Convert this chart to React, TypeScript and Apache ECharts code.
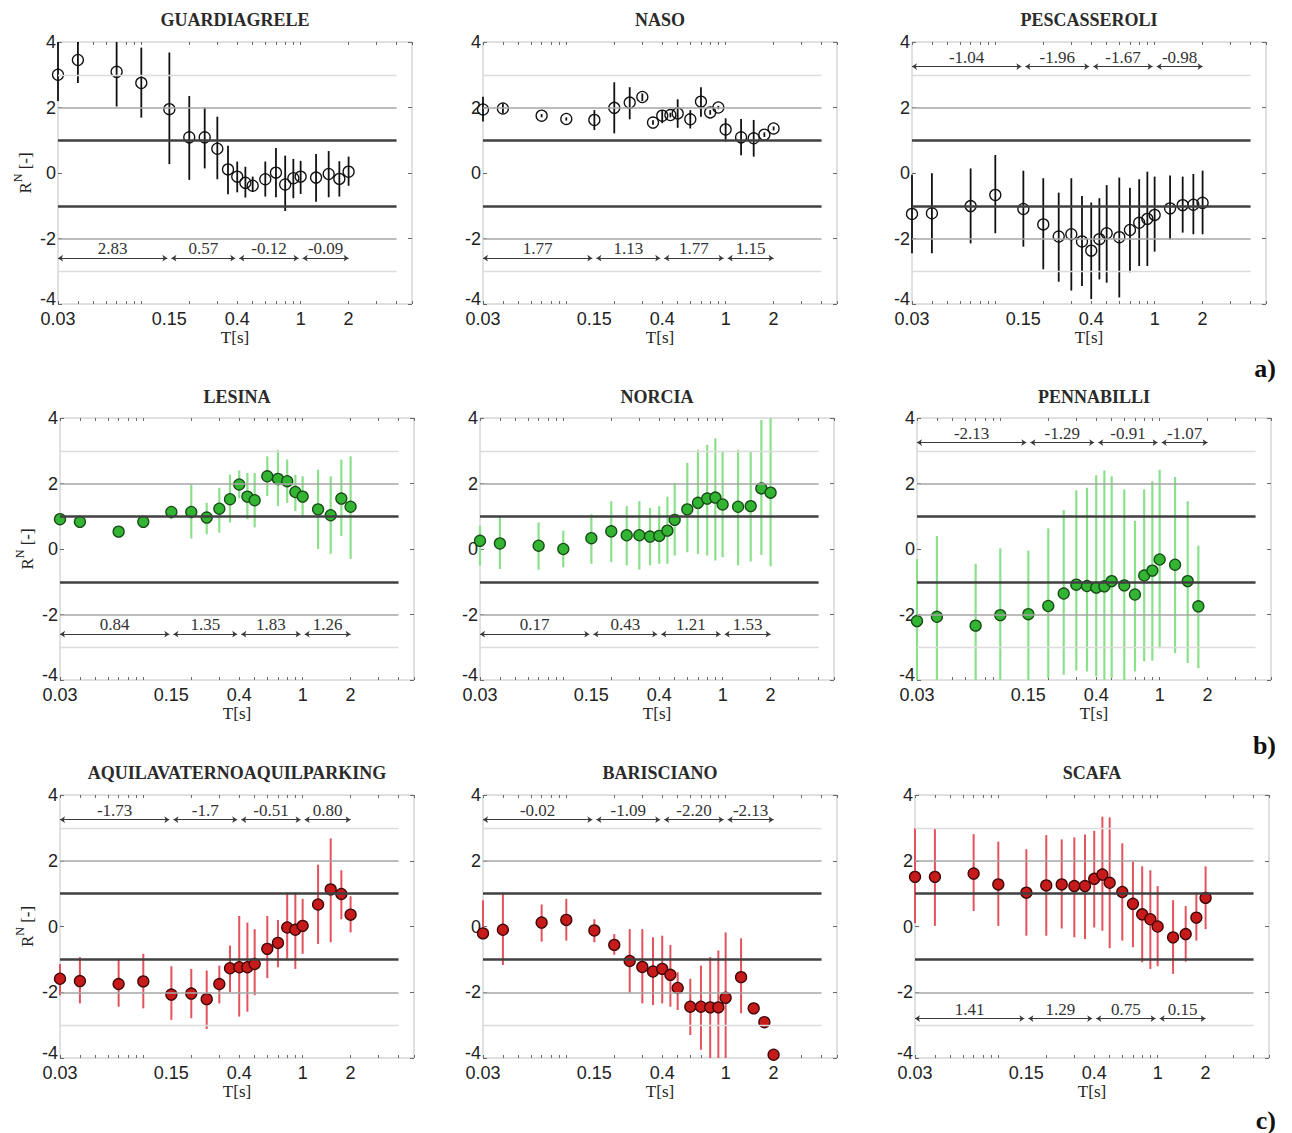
import React, { useEffect, useRef } from "react";
import * as echarts from "echarts";

// ---------------- data ----------------
const PERIODS = [0.03, 0.04, 0.07, 0.1, 0.15, 0.2, 0.25, 0.3, 0.35, 0.4, 0.45, 0.5, 0.6, 0.7, 0.8, 0.9, 1.0, 1.25, 1.5, 1.75, 2.0];
const PERIODS_PENNABILLI = [0.03, 0.04, 0.07, 0.1, 0.15, 0.2, 0.25, 0.3, 0.35, 0.4, 0.45, 0.5, 0.6, 0.7, 0.8, 0.9, 1.0, 1.25, 1.5, 1.75];

const X_LABEL_VALUES = [0.03, 0.15, 0.4, 1, 2];
const X_TICK_VALUES = [0.03, 0.04, 0.05, 0.06, 0.07, 0.08, 0.09, 0.1, 0.2, 0.3, 0.4, 0.5, 0.6, 0.7, 0.8, 0.9, 1, 2, 3, 4, 5];
const RANGE_BOUNDS = [0.03, 0.15, 0.4, 1, 2];
const GRID_LEVELS = [3, 2, 1, -1, -2, -3];
const GRID_LINE_END = 4;

const GUARD_VAL = [3.0, 3.45, 3.09, 2.75, 1.95, 1.09, 1.09, 0.74, 0.11, -0.11, -0.3, -0.39, -0.19, 0.01, -0.35, -0.16, -0.11, -0.14, -0.03, -0.18, 0.04];
const GUARD_LO = [2.2, 2.75, 2.03, 1.69, 0.27, -0.21, 0.14, -0.19, -0.65, -0.59, -0.75, -0.57, -0.72, -0.74, -1.16, -0.77, -0.64, -0.88, -0.74, -0.72, -0.39];
const GUARD_HI = [4.3, 4.2, 4.2, 3.83, 3.68, 2.35, 2.0, 1.72, 0.83, 0.35, 0.19, -0.11, 0.35, 0.76, 0.53, 0.43, 0.37, 0.58, 0.67, 0.36, 0.5];
const GUARD_RANGES = ["2.83", "0.57", "-0.12", "-0.09"];

const NASO_VAL = [1.94, 1.97, 1.75, 1.65, 1.62, 1.99, 2.15, 2.32, 1.54, 1.75, 1.77, 1.82, 1.64, 2.18, 1.85, 2.0, 1.33, 1.09, 1.06, 1.17, 1.36];
const NASO_LO = [1.57, 1.82, 1.7, 1.6, 1.31, 1.21, 1.64, 2.2, 1.47, 1.52, 1.7, 1.38, 1.36, 1.72, 1.78, 1.95, 0.96, 0.54, 0.5, 1.1, 1.3];
const NASO_HI = [2.33, 2.13, 1.8, 1.7, 1.92, 2.77, 2.62, 2.43, 1.61, 1.92, 1.84, 2.25, 1.92, 2.62, 1.92, 2.05, 1.67, 1.65, 1.62, 1.24, 1.42];
const NASO_RANGES = ["1.77", "1.13", "1.77", "1.15"];

const PESC_VAL = [-1.25, -1.23, -1.01, -0.67, -1.1, -1.57, -1.94, -1.87, -2.09, -2.37, -2.02, -1.84, -1.96, -1.74, -1.52, -1.4, -1.28, -1.08, -0.98, -0.97, -0.91];
const PESC_LO = [-2.45, -2.45, -2.15, -1.84, -2.25, -2.94, -3.32, -3.59, -3.45, -3.85, -3.25, -3.35, -3.8, -3.03, -2.84, -2.84, -2.4, -2.03, -1.82, -1.87, -1.87];
const PESC_HI = [-0.05, -0.01, 0.14, 0.55, 0.07, -0.16, -0.6, -0.16, -0.7, -0.9, -0.77, -0.37, -0.14, -0.45, -0.19, 0.04, -0.11, -0.08, -0.11, -0.03, 0.07];
const PESC_RANGES = ["-1.04", "-1.96", "-1.67", "-0.98"];

const LES_VAL = [0.91, 0.83, 0.53, 0.83, 1.13, 1.13, 0.96, 1.23, 1.52, 1.97, 1.6, 1.49, 2.22, 2.14, 2.07, 1.74, 1.6, 1.21, 1.03, 1.54, 1.29];
const LES_LO = [0.8, 0.72, 0.45, 0.75, 0.91, 0.32, 0.45, 0.5, 0.81, 1.55, 0.91, 0.66, 1.62, 1.31, 1.41, 1.16, 0.96, 0.0, -0.15, 0.4, -0.3];
const LES_HI = [1.0, 0.93, 0.62, 0.92, 1.31, 1.97, 1.41, 1.87, 2.27, 2.4, 2.32, 2.32, 2.83, 3.03, 2.73, 2.27, 2.22, 2.42, 2.22, 2.73, 2.83];
const LES_RANGES = ["0.84", "1.35", "1.83", "1.26"];

const NOR_VAL = [0.25, 0.17, 0.1, 0.0, 0.33, 0.54, 0.42, 0.42, 0.38, 0.4, 0.56, 0.89, 1.21, 1.41, 1.54, 1.57, 1.36, 1.29, 1.31, 1.85, 1.72];
const NOR_LO = [-0.5, -0.61, -0.63, -0.56, -0.45, -0.4, -0.5, -0.63, -0.5, -0.45, -0.45, -0.2, -0.1, -0.15, -0.2, -0.35, -0.25, -0.5, -0.38, -0.18, -0.53];
const NOR_HI = [0.71, 1.01, 0.81, 0.56, 1.06, 1.46, 1.31, 1.46, 1.26, 1.31, 1.6, 2.02, 2.63, 3.03, 3.18, 3.38, 2.98, 3.03, 2.98, 3.94, 4.2];
const NOR_RANGES = ["0.17", "0.43", "1.21", "1.53"];

const PEN_VAL = [-2.2, -2.07, -2.34, -2.02, -1.99, -1.74, -1.36, -1.09, -1.13, -1.18, -1.14, -0.98, -1.11, -1.39, -0.81, -0.66, -0.32, -0.48, -0.98, -1.75];
const PEN_LO = [-4.2, -4.3, -4.2, -4.1, -4.0, -3.94, -3.84, -3.71, -3.74, -3.89, -4.0, -3.94, -4.0, -3.74, -3.43, -3.41, -3.03, -3.18, -3.48, -3.64];
const PEN_HI = [-0.3, 0.4, -0.45, 0.02, -0.05, 0.63, 1.19, 1.79, 1.87, 2.25, 2.4, 2.22, 1.82, 0.86, 1.82, 2.07, 2.42, 2.2, 1.46, 0.1];
const PEN_RANGES = ["-2.13", "-1.29", "-0.91", "-1.07"];

const AQU_VAL = [-1.59, -1.66, -1.75, -1.67, -2.07, -2.04, -2.21, -1.75, -1.27, -1.24, -1.24, -1.14, -0.68, -0.5, -0.03, -0.1, 0.02, 0.67, 1.13, 0.99, 0.36];
const AQU_LO = [-2.09, -2.34, -2.44, -2.49, -2.84, -2.79, -3.12, -2.34, -1.99, -2.74, -2.59, -2.09, -1.57, -1.24, -0.98, -1.29, -0.83, -0.53, -0.48, 0.22, -0.18];
const AQU_HI = [-1.14, -0.93, -0.98, -0.83, -1.21, -1.29, -1.34, -1.19, -0.58, 0.32, 0.12, -0.08, 0.32, 0.2, 1.03, 1.03, 0.84, 1.88, 2.68, 1.71, 0.92];
const AQU_RANGES = ["-1.73", "-1.7", "-0.51", "0.80"];

const BAR_VAL = [-0.21, -0.1, 0.12, 0.2, -0.12, -0.56, -1.05, -1.23, -1.37, -1.29, -1.47, -1.87, -2.44, -2.44, -2.46, -2.46, -2.17, -1.54, -2.49, -2.91, -3.9];
const BAR_LO = [-0.3, -1.17, -0.46, -0.43, -0.48, -0.86, -2.01, -2.34, -2.39, -2.34, -2.44, -2.54, -3.3, -3.75, -4.3, -4.3, -4.3, -2.64, -2.55, -2.96, -3.95];
const BAR_HI = [0.8, 1.03, 0.67, 0.84, 0.22, -0.23, -0.08, -0.08, -0.33, -0.28, -0.56, -1.39, -1.59, -1.19, -0.93, -0.73, -0.18, -0.36, -2.43, -2.86, -3.85];
const BAR_RANGES = ["-0.02", "-1.09", "-2.20", "-2.13"];

const SCA_VAL = [1.51, 1.51, 1.61, 1.28, 1.03, 1.25, 1.28, 1.23, 1.23, 1.45, 1.58, 1.33, 1.05, 0.69, 0.37, 0.22, 0.0, -0.33, -0.23, 0.27, 0.87];
const SCA_LO = [0.1, 0.02, 0.47, 0.02, -0.28, -0.28, -0.06, -0.33, -0.38, -0.03, -0.13, -0.66, -0.43, -0.63, -1.09, -1.29, -1.21, -1.44, -1.07, -0.43, -0.08];
const SCA_HI = [3.0, 2.99, 2.81, 2.58, 2.35, 2.78, 2.65, 2.71, 2.8, 2.91, 3.34, 3.32, 2.53, 1.98, 1.83, 1.71, 1.23, 0.8, 0.62, 1.03, 1.83];
const SCA_RANGES = ["1.41", "1.29", "0.75", "0.15"];

const RANGE_Y_TOP = 3.25;
const RANGE_Y_BOTTOM = -2.6;
const RANGE_Y_SCAFA = -2.8;

type Panel = {
  title: string;
  periods: number[];
  val: number[];
  lo: number[];
  hi: number[];
  ranges: string[];
  rangeY: number;
  kind: "open" | "green" | "red";
};

const PANELS: Panel[] = [
  { title: "GUARDIAGRELE", periods: PERIODS, val: GUARD_VAL, lo: GUARD_LO, hi: GUARD_HI, ranges: GUARD_RANGES, rangeY: RANGE_Y_BOTTOM, kind: "open" },
  { title: "NASO", periods: PERIODS, val: NASO_VAL, lo: NASO_LO, hi: NASO_HI, ranges: NASO_RANGES, rangeY: RANGE_Y_BOTTOM, kind: "open" },
  { title: "PESCASSEROLI", periods: PERIODS, val: PESC_VAL, lo: PESC_LO, hi: PESC_HI, ranges: PESC_RANGES, rangeY: RANGE_Y_TOP, kind: "open" },
  { title: "LESINA", periods: PERIODS, val: LES_VAL, lo: LES_LO, hi: LES_HI, ranges: LES_RANGES, rangeY: RANGE_Y_BOTTOM, kind: "green" },
  { title: "NORCIA", periods: PERIODS, val: NOR_VAL, lo: NOR_LO, hi: NOR_HI, ranges: NOR_RANGES, rangeY: RANGE_Y_BOTTOM, kind: "green" },
  { title: "PENNABILLI", periods: PERIODS_PENNABILLI, val: PEN_VAL, lo: PEN_LO, hi: PEN_HI, ranges: PEN_RANGES, rangeY: RANGE_Y_TOP, kind: "green" },
  { title: "AQUILAVATERNOAQUILPARKING", periods: PERIODS, val: AQU_VAL, lo: AQU_LO, hi: AQU_HI, ranges: AQU_RANGES, rangeY: RANGE_Y_TOP, kind: "red" },
  { title: "BARISCIANO", periods: PERIODS, val: BAR_VAL, lo: BAR_LO, hi: BAR_HI, ranges: BAR_RANGES, rangeY: RANGE_Y_TOP, kind: "red" },
  { title: "SCAFA", periods: PERIODS, val: SCA_VAL, lo: SCA_LO, hi: SCA_HI, ranges: SCA_RANGES, rangeY: RANGE_Y_SCAFA, kind: "red" },
];

const ROW_LABELS = ["a)", "b)", "c)"];

// ---------------- layout / style ----------------
const COL_LEFT = [
  [58, 483, 912],
  [60, 480, 917],
  [60, 483, 915],
];
const ROW_TOP = [42, 418, 795];
const ROW_H = [262, 262, 263];
const PLOT_W = 354;
const TITLE_Y = [20, 397, 773];
const ROW_LABEL_Y = [368, 745, 1120];

const SERIF = "'Liberation Serif', 'Times New Roman', serif";
const SANS = "'Liberation Sans', Arial, sans-serif";

const KIND_STYLE = {
  open: { bar: "#111111", barW: 1.8, fill: "rgba(255,255,255,0)", border: "#111111", borderW: 1.3, size: 11 },
  green: { bar: "#8be08b", barW: 2.2, fill: "#33b533", border: "#174a17", borderW: 1.3, size: 11 },
  red: { bar: "#e4525c", barW: 2.0, fill: "#c71a1a", border: "#3d0606", borderW: 1.3, size: 11 },
};

function levelStyle(l: number) {
  const a = Math.abs(l);
  if (a === 1) return { color: "#404040", width: 2.6, type: "solid" };
  if (a === 2) return { color: "#a6a6a6", width: 1.6, type: "solid" };
  return { color: "#dcdcdc", width: 1.3, type: "solid" };
}

function fmtX(v: number) {
  return String(Math.round(v * 100) / 100);
}

function fmtY(v: number) {
  return v === -4 ? "{m|-4}" : "{n|" + String(v) + "}";
}

function buildOption() {
  const grid: any[] = [];
  const xAxis: any[] = [];
  const yAxis: any[] = [];
  const series: any[] = [];
  const graphic: any[] = [];

  PANELS.forEach((p, i) => {
    const row = Math.floor(i / 3);
    const col = i % 3;
    const left = COL_LEFT[row][col];
    const top = ROW_TOP[row];
    const h = ROW_H[row];
    grid.push({
      left,
      top,
      width: PLOT_W,
      height: h,
      show: true,
      borderColor: "#c2c2c2",
      borderWidth: 1,
      backgroundColor: "transparent",
      containLabel: false,
      outerBoundsMode: "none",
    });

    const xBase = {
      type: "log",
      logBase: 10,
      gridIndex: i,
      min: 0.03,
      max: 5,
      axisLine: { show: false, onZero: false },
      splitLine: { show: false },
      minorTick: { show: false },
      axisTick: { show: true, inside: true, length: 3, customValues: X_TICK_VALUES, lineStyle: { color: "#6a6a6a", width: 1 } },
    };
    xAxis.push({
      ...xBase,
      position: "bottom",
      axisLabel: {
        show: true,
        customValues: X_LABEL_VALUES,
        formatter: (v: number) => fmtX(v),
        fontFamily: SANS,
        fontSize: 18,
        color: "#222",
        margin: 6,
      },
      name: "T[s]",
      nameLocation: "middle",
      nameGap: 22,
      nameTextStyle: { fontFamily: SERIF, fontSize: 17, color: "#222" },
    });
    xAxis.push({ ...xBase, position: "top", axisLabel: { show: false } });

    const yBase = {
      type: "value",
      gridIndex: i,
      min: -4,
      max: 4,
      interval: 2,
      axisLine: { show: false, onZero: false },
      splitLine: { show: false },
      axisTick: { show: true, inside: true, length: 4, lineStyle: { color: "#6a6a6a", width: 1 } },
    };
    const yLeft: any = {
      ...yBase,
      position: "left",
      axisLabel: {
        show: true,
        margin: 2,
        formatter: (v: number) => fmtY(v),
        rich: {
          n: { fontFamily: SANS, fontSize: 18, color: "#222" },
          m: { fontFamily: SANS, fontSize: 18, color: "#222", padding: [0, 0, 10, 0] },
        },
      },
    };
    if (col === 0) {
      yLeft.name = "{r|R}{s|N}{r| [-]}";
      yLeft.nameLocation = "middle";
      yLeft.nameRotate = 90;
      yLeft.nameGap = 24;
      yLeft.nameTextStyle = {
        rich: {
          r: { fontFamily: SERIF, fontSize: 17, color: "#222", lineHeight: 22, verticalAlign: "bottom" },
          s: { fontFamily: SERIF, fontSize: 12, color: "#222", lineHeight: 22, verticalAlign: "top" },
        },
      };
    }
    yAxis.push(yLeft);
    yAxis.push({ ...yBase, position: "right", axisLabel: { show: false } });

    const xi = 2 * i;
    const yi = 2 * i;
    const st = KIND_STYLE[p.kind];

    // reference grid lines
    series.push({
      type: "line",
      xAxisIndex: xi,
      yAxisIndex: yi,
      data: [],
      z: 1,
      silent: true,
      markLine: {
        silent: true,
        animation: false,
        symbol: ["none", "none"],
        label: { show: false },
        data: GRID_LEVELS.map((l) => [
          { coord: [PERIODS[0], l], lineStyle: levelStyle(l) },
          { coord: [GRID_LINE_END, l] },
        ]),
      },
    });

    // period-range averages
    series.push({
      type: "line",
      xAxisIndex: xi,
      yAxisIndex: yi,
      data: [],
      z: 2,
      silent: true,
      markLine: {
        silent: true,
        animation: false,
        symbol: ["arrow", "arrow"],
        symbolSize: 5,
        lineStyle: { color: "#3a3a3a", width: 1, type: "solid" },
        label: {
          show: true,
          position: "insideMiddleTop",
          distance: 1,
          formatter: "{b}",
          fontFamily: SERIF,
          fontSize: 17,
          color: "#333",
        },
        data: p.ranges.map((txt, k) => [
          { coord: [RANGE_BOUNDS[k] * (k === 0 ? 1 : 1.03), p.rangeY], name: txt },
          { coord: [RANGE_BOUNDS[k + 1] / (k === p.ranges.length - 1 ? 1 : 1.03), p.rangeY] },
        ]),
      },
    });

    // error bars
    series.push({
      type: "custom",
      xAxisIndex: xi,
      yAxisIndex: yi,
      z: 3,
      silent: true,
      encode: { x: 0, y: [1, 2] },
      data: p.periods.map((t, k) => [t, p.lo[k], p.hi[k]]),
      renderItem: (params: any, api: any) => {
        const clamp = (v: number) => Math.max(-4, Math.min(4, v));
        const x = api.value(0);
        const a = api.coord([x, clamp(api.value(1))]);
        const b = api.coord([x, clamp(api.value(2))]);
        return {
          type: "line",
          shape: { x1: a[0], y1: a[1], x2: b[0], y2: b[1] },
          style: { stroke: st.bar, lineWidth: st.barW },
        };
      },
    });

    // mean values
    series.push({
      type: "scatter",
      xAxisIndex: xi,
      yAxisIndex: yi,
      z: 4,
      symbol: "circle",
      symbolSize: st.size,
      data: p.periods.map((t, k) => [t, p.val[k]]),
      itemStyle: { color: st.fill, borderColor: st.border, borderWidth: st.borderW, opacity: 1 },
    });

    graphic.push({
      type: "text",
      x: left + PLOT_W / 2,
      y: TITLE_Y[row],
      style: {
        text: p.title,
        align: "center",
        verticalAlign: "middle",
        textAlign: "center",
        textVerticalAlign: "middle",
        fontFamily: SERIF,
        fontSize: 18,
        fontWeight: "bold",
        fill: "#2a2a2a",
      },
    });
  });

  ROW_LABELS.forEach((txt, r) => {
    graphic.push({
      type: "text",
      x: 1276,
      y: ROW_LABEL_Y[r],
      style: {
        text: txt,
        align: "right",
        verticalAlign: "middle",
        textAlign: "right",
        textVerticalAlign: "middle",
        fontFamily: SERIF,
        fontSize: 26,
        fontWeight: "bold",
        fill: "#111",
      },
    });
  });

  return {
    animation: false,
    backgroundColor: "#ffffff",
    grid,
    xAxis,
    yAxis,
    series,
    graphic,
  };
}

export default function App() {
  const ref = useRef<HTMLDivElement>(null);
  useEffect(() => {
    if (!ref.current) return;
    const chart = echarts.init(ref.current, null, { renderer: "svg" });
    chart.setOption(buildOption() as any);
    return () => chart.dispose();
  }, []);
  return (
    <div
      ref={ref}
      style={{ position: "absolute", left: 0, top: 0, width: 1292, height: 1133, background: "#fff" }}
    />
  );
}
